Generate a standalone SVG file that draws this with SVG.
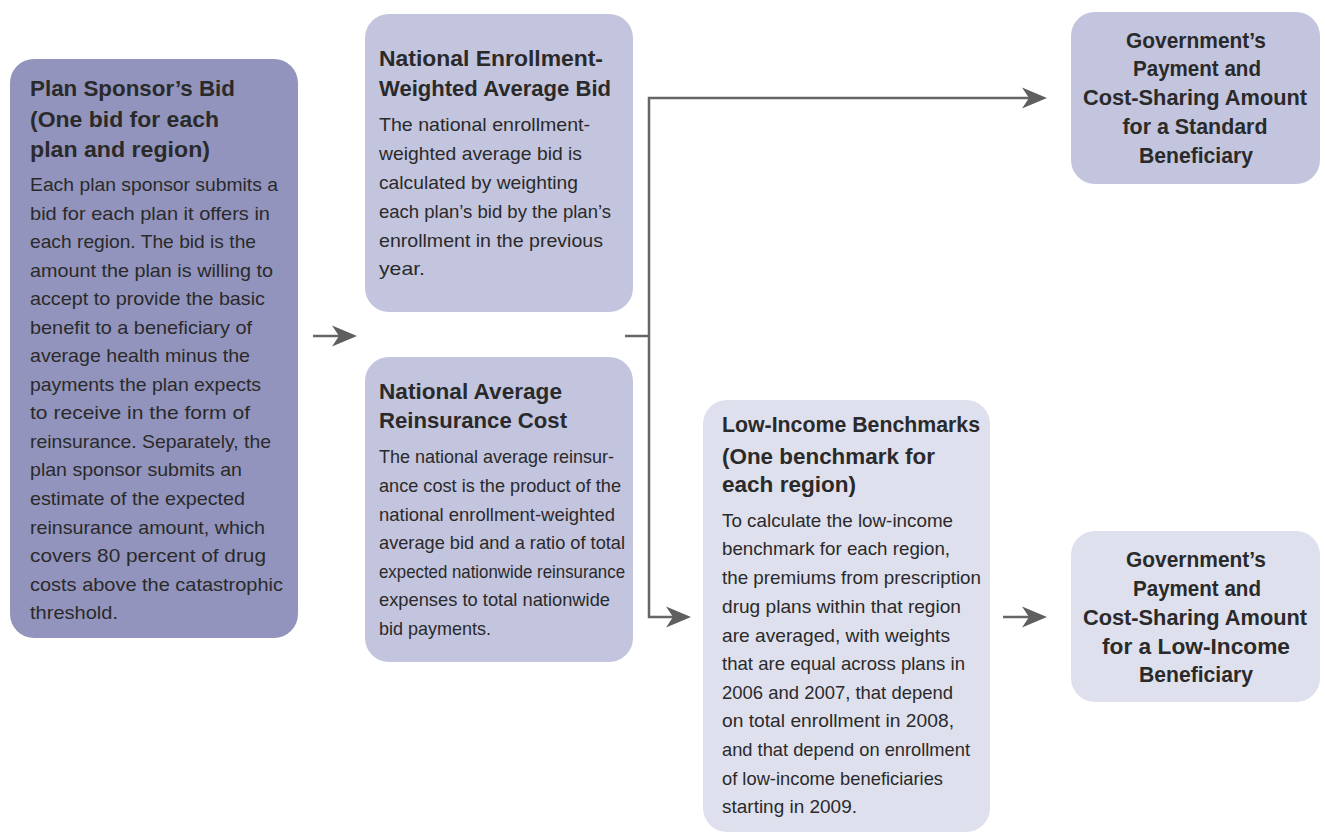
<svg xmlns="http://www.w3.org/2000/svg" width="1325" height="834" viewBox="0 0 1325 834">
<style>
.t{font-family:"Liberation Sans",Arial,sans-serif;font-weight:bold;font-size:22px;fill:#2a2a2a}
.b{font-family:"Liberation Sans",Arial,sans-serif;font-size:19px;fill:#2a2a2a}
.c{text-anchor:middle}
.dk{fill:#9294BD}
.md{fill:#C3C4DE}
.lt{fill:#DFE0EE}
.ln{fill:none;stroke:#666;stroke-width:2.5}
</style>
<defs>
<marker id="ah" markerUnits="userSpaceOnUse" markerWidth="26" markerHeight="22" refX="13" refY="10.5" orient="auto" viewBox="0 0 26 21">
<path d="M0,0 L25,10.5 L0,21 L7,10.5 Z" fill="#5f5f5f"/>
</marker>
</defs>
<rect width="1325" height="834" fill="#fff"/>

<g id="plan-sponsor-bid">
<rect class="dk" x="10" y="59" width="288" height="579" rx="24"/>
<text class="t" x="30" y="96" textLength="205" lengthAdjust="spacingAndGlyphs">Plan Sponsor’s Bid</text>
<text class="t" x="30" y="127" textLength="189" lengthAdjust="spacingAndGlyphs">(One bid for each</text>
<text class="t" x="30" y="157" textLength="180" lengthAdjust="spacingAndGlyphs">plan and region)</text>
<text class="b" x="30" y="191" textLength="248" lengthAdjust="spacingAndGlyphs">Each plan sponsor submits a</text>
<text class="b" x="30" y="220" textLength="240" lengthAdjust="spacingAndGlyphs">bid for each plan it offers in</text>
<text class="b" x="30" y="248" textLength="226" lengthAdjust="spacingAndGlyphs">each region. The bid is the</text>
<text class="b" x="30" y="277" textLength="243" lengthAdjust="spacingAndGlyphs">amount the plan is willing to</text>
<text class="b" x="30" y="305" textLength="235" lengthAdjust="spacingAndGlyphs">accept to provide the basic</text>
<text class="b" x="30" y="334" textLength="222" lengthAdjust="spacingAndGlyphs">benefit to a beneficiary of</text>
<text class="b" x="30" y="362" textLength="220" lengthAdjust="spacingAndGlyphs">average health minus the</text>
<text class="b" x="30" y="391" textLength="231" lengthAdjust="spacingAndGlyphs">payments the plan expects</text>
<text class="b" x="30" y="419" textLength="220" lengthAdjust="spacingAndGlyphs">to receive in the form of</text>
<text class="b" x="30" y="448" textLength="241" lengthAdjust="spacingAndGlyphs">reinsurance. Separately, the</text>
<text class="b" x="30" y="476" textLength="212" lengthAdjust="spacingAndGlyphs">plan sponsor submits an</text>
<text class="b" x="30" y="505" textLength="215" lengthAdjust="spacingAndGlyphs">estimate of the expected</text>
<text class="b" x="30" y="534" textLength="235" lengthAdjust="spacingAndGlyphs">reinsurance amount, which</text>
<text class="b" x="30" y="562" textLength="236" lengthAdjust="spacingAndGlyphs">covers 80 percent of drug</text>
<text class="b" x="30" y="591" textLength="253" lengthAdjust="spacingAndGlyphs">costs above the catastrophic</text>
<text class="b" x="30" y="619" textLength="88" lengthAdjust="spacingAndGlyphs">threshold.</text>
</g>

<g id="national-average-bid">
<rect class="md" x="365" y="14" width="268" height="298" rx="24"/>
<text class="t" x="379" y="66" textLength="224" lengthAdjust="spacingAndGlyphs">National Enrollment-</text>
<text class="t" x="379" y="96" textLength="232" lengthAdjust="spacingAndGlyphs">Weighted Average Bid</text>
<text class="b" x="379" y="131" textLength="211" lengthAdjust="spacingAndGlyphs">The national enrollment-</text>
<text class="b" x="379" y="160" textLength="203" lengthAdjust="spacingAndGlyphs">weighted average bid is</text>
<text class="b" x="379" y="189" textLength="199" lengthAdjust="spacingAndGlyphs">calculated by weighting</text>
<text class="b" x="379" y="218" textLength="232" lengthAdjust="spacingAndGlyphs">each plan’s bid by the plan’s</text>
<text class="b" x="379" y="247" textLength="224" lengthAdjust="spacingAndGlyphs">enrollment in the previous</text>
<text class="b" x="379" y="275" textLength="46" lengthAdjust="spacingAndGlyphs">year.</text>
</g>

<g id="national-average-reinsurance">
<rect class="md" x="365" y="357" width="268" height="305" rx="24"/>
<text class="t" x="379" y="399" textLength="183" lengthAdjust="spacingAndGlyphs">National Average</text>
<text class="t" x="379" y="428" textLength="188" lengthAdjust="spacingAndGlyphs">Reinsurance Cost</text>
<text class="b" x="379" y="463" textLength="235" lengthAdjust="spacingAndGlyphs">The national average reinsur-</text>
<text class="b" x="379" y="492" textLength="242" lengthAdjust="spacingAndGlyphs">ance cost is the product of the</text>
<text class="b" x="379" y="521" textLength="236" lengthAdjust="spacingAndGlyphs">national enrollment-weighted</text>
<text class="b" x="379" y="549" textLength="246" lengthAdjust="spacingAndGlyphs">average bid and a ratio of total</text>
<text class="b" x="379" y="578" textLength="246" lengthAdjust="spacingAndGlyphs">expected nationwide reinsurance</text>
<text class="b" x="379" y="606" textLength="231" lengthAdjust="spacingAndGlyphs">expenses to total nationwide</text>
<text class="b" x="379" y="635" textLength="112" lengthAdjust="spacingAndGlyphs">bid payments.</text>
</g>

<g id="low-income-benchmarks">
<rect class="lt" x="703" y="400" width="287" height="432" rx="24"/>
<text class="t" x="722" y="432" textLength="258" lengthAdjust="spacingAndGlyphs">Low-Income Benchmarks</text>
<text class="t" x="722" y="464" textLength="213" lengthAdjust="spacingAndGlyphs">(One benchmark for</text>
<text class="t" x="722" y="492" textLength="134" lengthAdjust="spacingAndGlyphs">each region)</text>
<text class="b" x="722" y="527" textLength="231" lengthAdjust="spacingAndGlyphs">To calculate the low-income</text>
<text class="b" x="722" y="555" textLength="228" lengthAdjust="spacingAndGlyphs">benchmark for each region,</text>
<text class="b" x="722" y="584" textLength="259" lengthAdjust="spacingAndGlyphs">the premiums from prescription</text>
<text class="b" x="722" y="613" textLength="239" lengthAdjust="spacingAndGlyphs">drug plans within that region</text>
<text class="b" x="722" y="642" textLength="228" lengthAdjust="spacingAndGlyphs">are averaged, with weights</text>
<text class="b" x="722" y="670" textLength="243" lengthAdjust="spacingAndGlyphs">that are equal across plans in</text>
<text class="b" x="722" y="699" textLength="231" lengthAdjust="spacingAndGlyphs">2006 and 2007, that depend</text>
<text class="b" x="722" y="727" textLength="232" lengthAdjust="spacingAndGlyphs">on total enrollment in 2008,</text>
<text class="b" x="722" y="756" textLength="248" lengthAdjust="spacingAndGlyphs">and that depend on enrollment</text>
<text class="b" x="722" y="785" textLength="221" lengthAdjust="spacingAndGlyphs">of low-income beneficiaries</text>
<text class="b" x="722" y="813" textLength="135" lengthAdjust="spacingAndGlyphs">starting in 2009.</text>
</g>

<g id="government-standard">
<rect class="md" x="1071" y="12" width="249" height="172" rx="24"/>
<text class="t c" x="1196" y="48" textLength="140" lengthAdjust="spacingAndGlyphs">Government’s</text>
<text class="t c" x="1197" y="76" textLength="128" lengthAdjust="spacingAndGlyphs">Payment and</text>
<text class="t c" x="1195" y="105" textLength="224" lengthAdjust="spacingAndGlyphs">Cost-Sharing Amount</text>
<text class="t c" x="1195" y="134" textLength="145" lengthAdjust="spacingAndGlyphs">for a Standard</text>
<text class="t c" x="1196" y="163" textLength="114" lengthAdjust="spacingAndGlyphs">Beneficiary</text>
</g>

<g id="government-low-income">
<rect class="lt" x="1071" y="531" width="249" height="171" rx="24"/>
<text class="t c" x="1196" y="567" textLength="140" lengthAdjust="spacingAndGlyphs">Government’s</text>
<text class="t c" x="1197" y="596" textLength="128" lengthAdjust="spacingAndGlyphs">Payment and</text>
<text class="t c" x="1195" y="625" textLength="224" lengthAdjust="spacingAndGlyphs">Cost-Sharing Amount</text>
<text class="t c" x="1196" y="654" textLength="188" lengthAdjust="spacingAndGlyphs">for a Low-Income</text>
<text class="t c" x="1196" y="682" textLength="114" lengthAdjust="spacingAndGlyphs">Beneficiary</text>
</g>

<g id="connectors">
<path class="ln" d="M313,336 H345" marker-end="url(#ah)"/>
<path class="ln" d="M625,336 H649"/>
<path class="ln" d="M649,336 V98 H1035" marker-end="url(#ah)"/>
<path class="ln" d="M649,336 V617 H679" marker-end="url(#ah)"/>
<path class="ln" d="M1003,617 H1035" marker-end="url(#ah)"/>
</g>
</svg>
